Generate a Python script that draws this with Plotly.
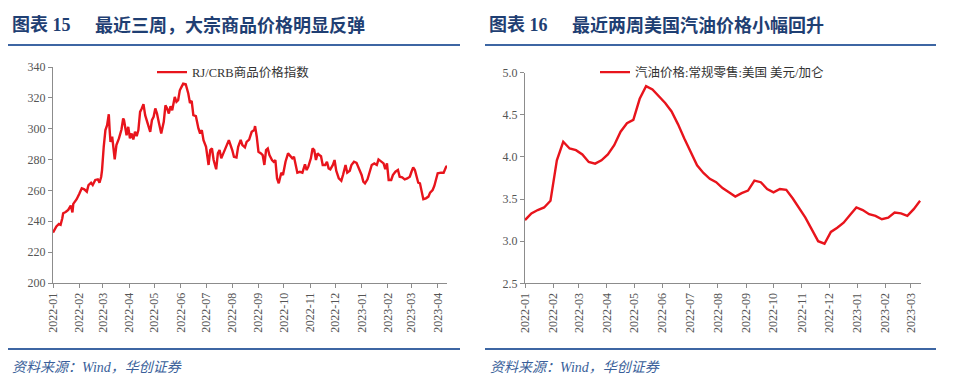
import plotly.graph_objects as go

# ---------------- data: RJ/CRB commodity index (left) ----------------
crb_dates = [
    "2022-01-01", "2022-01-03", "2022-01-05", "2022-01-08", "2022-01-10", "2022-01-12", "2022-01-13",
    "2022-01-16", "2022-01-19", "2022-01-22", "2022-01-24", "2022-01-25", "2022-01-29",
    "2022-02-01", "2022-02-04", "2022-02-07", "2022-02-10", "2022-02-12", "2022-02-15", "2022-02-17",
    "2022-02-20", "2022-02-23", "2022-02-25", "2022-02-27", "2022-02-28",
    "2022-03-02", "2022-03-04", "2022-03-06", "2022-03-08", "2022-03-09", "2022-03-10", "2022-03-12",
    "2022-03-14", "2022-03-15", "2022-03-17", "2022-03-20", "2022-03-23", "2022-03-25", "2022-03-26",
    "2022-03-28", "2022-03-29", "2022-03-31",
    "2022-04-02", "2022-04-04", "2022-04-06", "2022-04-08", "2022-04-10", "2022-04-12", "2022-04-14",
    "2022-04-16", "2022-04-18", "2022-04-20", "2022-04-22", "2022-04-24", "2022-04-26", "2022-04-28",
    "2022-04-30",
    "2022-05-02", "2022-05-04", "2022-05-06", "2022-05-09", "2022-05-12", "2022-05-14", "2022-05-16",
    "2022-05-18", "2022-05-20", "2022-05-22", "2022-05-25", "2022-05-27", "2022-05-29", "2022-05-31",
    "2022-06-02", "2022-06-04", "2022-06-07", "2022-06-10", "2022-06-12", "2022-06-14", "2022-06-16",
    "2022-06-19", "2022-06-22", "2022-06-24", "2022-06-26", "2022-06-28",
    "2022-07-01", "2022-07-02", "2022-07-04", "2022-07-06", "2022-07-08", "2022-07-10", "2022-07-13",
    "2022-07-15", "2022-07-17", "2022-07-19", "2022-07-22", "2022-07-25", "2022-07-28",
    "2022-08-01", "2022-08-03", "2022-08-06", "2022-08-08", "2022-08-11", "2022-08-13", "2022-08-16",
    "2022-08-18", "2022-08-21", "2022-08-24", "2022-08-27", "2022-08-28", "2022-08-30",
    "2022-09-01", "2022-09-04", "2022-09-06", "2022-09-08", "2022-09-10", "2022-09-12", "2022-09-14",
    "2022-09-17", "2022-09-19", "2022-09-21", "2022-09-23", "2022-09-25", "2022-09-28", "2022-09-30",
    "2022-10-03", "2022-10-06", "2022-10-08", "2022-10-11", "2022-10-13", "2022-10-15", "2022-10-17",
    "2022-10-20", "2022-10-23", "2022-10-26", "2022-10-28", "2022-10-30",
    "2022-11-02", "2022-11-04", "2022-11-06", "2022-11-08", "2022-11-10", "2022-11-12", "2022-11-14",
    "2022-11-16", "2022-11-19", "2022-11-21", "2022-11-23", "2022-11-25", "2022-11-28", "2022-11-30",
    "2022-12-02", "2022-12-05", "2022-12-08", "2022-12-10", "2022-12-13", "2022-12-15", "2022-12-18",
    "2022-12-20", "2022-12-23", "2022-12-26", "2022-12-29",
    "2023-01-01", "2023-01-03", "2023-01-05", "2023-01-08", "2023-01-10", "2023-01-13", "2023-01-16",
    "2023-01-19", "2023-01-21", "2023-01-24", "2023-01-27", "2023-01-29", "2023-01-31",
    "2023-02-02", "2023-02-05", "2023-02-07", "2023-02-10", "2023-02-13", "2023-02-15", "2023-02-18",
    "2023-02-21", "2023-02-24", "2023-02-27",
    "2023-03-01", "2023-03-03", "2023-03-05", "2023-03-07", "2023-03-09", "2023-03-11", "2023-03-13",
    "2023-03-15", "2023-03-18", "2023-03-21", "2023-03-23", "2023-03-26", "2023-03-28", "2023-03-30",
    "2023-04-01", "2023-04-05", "2023-04-08", "2023-04-11", "2023-04-12",
]
crb_values = [
    232.7, 234.5, 236.6, 238.3, 237.7, 242.0, 245.2,
    246.0, 247.4, 250.2, 245.7, 251.3, 254.3,
    257.7, 261.4, 260.7, 259.2, 263.5, 265.0, 263.5,
    266.8, 267.2, 265.0, 268.9, 273.2,
    288.3, 299.1, 302.3, 309.4, 299.1, 291.5, 294.8,
    287.2, 280.1, 289.4, 293.7, 299.5, 306.6, 305.5,
    300.2, 295.8, 301.2,
    293.7, 296.9, 293.0, 298.0, 295.2, 299.1, 310.9,
    313.1, 315.9, 308.8, 305.5, 301.2, 298.0, 305.5,
    307.7,
    313.1, 309.8, 304.5, 296.9, 304.5, 315.2, 313.1,
    309.8, 314.6, 312.0, 320.6, 317.4, 318.5, 324.9,
    327.1, 329.2, 328.8, 322.8, 316.7, 318.1, 308.8,
    308.1, 300.2, 296.9, 299.1, 292.6,
    288.3, 282.9, 276.5, 286.2, 287.2, 279.7, 273.7,
    284.0, 286.2, 280.8, 285.1, 288.3, 292.6,
    286.2, 281.8, 281.4, 288.3, 292.8, 289.4, 287.9,
    291.5, 293.0, 298.0, 299.1, 301.7, 294.8,
    285.1, 284.0, 282.9, 276.5, 286.2, 287.2, 282.9,
    279.7, 278.6, 279.7, 267.8, 264.6, 271.5, 270.0,
    278.6, 284.0, 282.9, 280.8, 281.8, 275.4, 271.5,
    272.1, 271.5, 276.9, 273.2, 275.4,
    280.8, 287.2, 286.2, 279.7, 284.0, 282.9, 282.2,
    276.5, 276.5, 278.6, 274.3, 273.7, 276.5, 279.7,
    272.8, 267.8, 266.3, 270.0, 276.5, 271.5, 272.8,
    276.5, 278.6, 277.9, 274.3,
    270.0, 265.7, 264.6, 267.2, 271.1, 276.5, 277.5,
    276.5, 280.1, 278.6, 277.5, 273.7, 277.5,
    266.8, 266.8, 270.0, 272.1, 273.2, 268.9, 268.5,
    267.2, 267.8, 268.9,
    272.1, 274.9, 273.2, 269.4, 265.0, 264.6, 260.3,
    254.3, 254.9, 256.0, 258.6, 260.3, 262.9, 266.8,
    271.1, 271.5, 271.5, 275.4, 275.8,
]

# ---------------- data: US regular retail gasoline (right), USD/gallon ----------------
gas_dates = [
    "2022-01-01", "2022-01-08", "2022-01-15", "2022-01-22", "2022-01-29",
    "2022-02-05", "2022-02-12", "2022-02-19", "2022-02-26",
    "2022-03-05", "2022-03-12", "2022-03-19", "2022-03-26",
    "2022-04-02", "2022-04-09", "2022-04-16", "2022-04-23", "2022-04-30",
    "2022-05-07", "2022-05-14", "2022-05-21", "2022-05-28",
    "2022-06-04", "2022-06-11", "2022-06-18", "2022-06-25",
    "2022-07-02", "2022-07-09", "2022-07-16", "2022-07-23", "2022-07-30",
    "2022-08-06", "2022-08-13", "2022-08-20", "2022-08-27",
    "2022-09-03", "2022-09-10", "2022-09-17", "2022-09-24",
    "2022-10-01", "2022-10-08", "2022-10-15", "2022-10-22", "2022-10-29",
    "2022-11-05", "2022-11-12", "2022-11-19", "2022-11-26",
    "2022-12-03", "2022-12-10", "2022-12-17", "2022-12-24", "2022-12-31",
    "2023-01-07", "2023-01-14", "2023-01-21", "2023-01-28",
    "2023-02-04", "2023-02-11", "2023-02-18", "2023-02-25",
    "2023-03-04", "2023-03-11",
]
gas_values = [
    3.25, 3.33, 3.37, 3.40, 3.48,
    3.96, 4.18, 4.10, 4.08,
    4.03, 3.94, 3.92, 3.96,
    4.03, 4.14, 4.30, 4.40, 4.44,
    4.69, 4.84, 4.80, 4.72,
    4.64, 4.54, 4.39, 4.22,
    4.06, 3.90, 3.81, 3.74, 3.70,
    3.63, 3.58, 3.53, 3.57,
    3.60, 3.72, 3.70, 3.62,
    3.58, 3.62, 3.61, 3.51, 3.39,
    3.28, 3.14, 3.00, 2.97,
    3.11, 3.16, 3.22, 3.31, 3.40,
    3.37, 3.32, 3.30, 3.26,
    3.28, 3.34, 3.33, 3.30,
    3.38, 3.48,
]

left_title_no = "图表 15"
left_title = "最近三周，大宗商品价格明显反弹"
right_title_no = "图表 16"
right_title = "最近两周美国汽油价格小幅回升"
crb_name = "RJ/CRB商品价格指数"
gas_name = "汽油价格:常规零售:美国 美元/加仑"
source_text = "资料来源：Wind，华创证券"

left_yticks = [200, 220, 240, 260, 280, 300, 320, 340]
right_yticks = [2.5, 3.0, 3.5, 4.0, 4.5, 5.0]

# ---------------- styling ----------------
W, H = 960, 385
RED = "#E8141C"
NAVY = "#1F3F73"
RULE = "#3D66A3"
AXIS = "#8C8C8C"
TICKTXT = "#555555"
SERIF = "Liberation Serif, Noto Sans CJK SC, serif"
CJK = "Liberation Serif, Noto Sans CJK SC, sans-serif"


def px(x):
    return x / W


def py(y):
    return 1 - y / H


fig = go.Figure()
fig.add_trace(go.Scatter(x=crb_dates, y=crb_values, mode="lines", name=crb_name,
                         line=dict(color=RED, width=2.4), xaxis="x", yaxis="y",
                         legend="legend"))
fig.add_trace(go.Scatter(x=gas_dates, y=gas_values, mode="lines", name=gas_name,
                         line=dict(color=RED, width=2.4), xaxis="x2", yaxis="y2",
                         legend="legend2"))

xcommon = dict(type="date", tickformat="%Y-%m", dtick="M1", tick0="2022-01-01",
               tickangle=-90, showgrid=False, zeroline=False, showline=True,
               linecolor=AXIS, linewidth=1, ticks="outside", ticklen=4, tickcolor=AXIS,
               automargin=False,
               tickfont=dict(family=SERIF, size=12, color=TICKTXT))
ycommon = dict(showgrid=False, zeroline=False, showline=True, linecolor=AXIS, linewidth=1,
               ticks="outside", ticklen=4, tickcolor=AXIS, automargin=False,
               tickfont=dict(family=SERIF, size=12, color=TICKTXT))

fig.update_layout(
    width=W, height=H, margin=dict(l=0, r=0, t=0, b=0, pad=0, autoexpand=False),
    paper_bgcolor="white", plot_bgcolor="white",
    xaxis=dict(xcommon, domain=[px(53), px(447)], range=["2022-01-01", "2023-04-12"], anchor="y"),
    yaxis=dict(ycommon, domain=[py(283), py(67)], range=[200, 340], tickvals=left_yticks,
               anchor="x"),
    xaxis2=dict(xcommon, domain=[px(525), px(921)], range=["2022-01-01", "2023-03-12"],
                anchor="y2"),
    yaxis2=dict(ycommon, domain=[py(283.3), py(72.7)], range=[2.5, 5.0], tickvals=right_yticks,
                tickformat=".1f", anchor="x2"),
    legend=dict(x=px(152), y=py(72.5), xanchor="left", yanchor="middle",
                bgcolor="rgba(0,0,0,0)", font=dict(family=SERIF, size=12.5, color="#333333")),
    legend2=dict(x=px(595), y=py(72.5), xanchor="left", yanchor="middle",
                 bgcolor="rgba(0,0,0,0)", font=dict(family=CJK, size=12.5, color="#333333")),
    showlegend=True,
)

# title rules and footer rules
for x0, x1 in [(8, 460), (485, 936)]:
    fig.add_shape(type="line", xref="paper", yref="paper", x0=px(x0), x1=px(x1),
                  y0=py(45), y1=py(45), line=dict(color=RULE, width=2))
    fig.add_shape(type="line", xref="paper", yref="paper", x0=px(x0), x1=px(x1),
                  y0=py(349), y1=py(349), line=dict(color=RULE, width=2))

title_font = dict(family=CJK, size=18, color=NAVY)
for xno, xt, tno, tt in [(10, 93, left_title_no, left_title), (487, 570, right_title_no, right_title)]:
    fig.add_annotation(text="<b>" + tno + "</b>", xref="paper", yref="paper", x=px(xno), y=py(25),
                       xanchor="left", yanchor="middle", showarrow=False, font=title_font)
    fig.add_annotation(text="<b>" + tt + "</b>", xref="paper", yref="paper", x=px(xt), y=py(25),
                       xanchor="left", yanchor="middle", showarrow=False, font=title_font)

for xs in [10, 488]:
    fig.add_annotation(text="<i>" + source_text + "</i>", xref="paper", yref="paper",
                       x=px(xs), y=py(367), xanchor="left", yanchor="middle", showarrow=False,
                       font=dict(family=CJK, size=14, color="#3A5F9A"))

fig.write_html("out.html", config={"displayModeBar": False},
               post_script="document.body.style.margin='0px';document.body.style.overflow='hidden';")
